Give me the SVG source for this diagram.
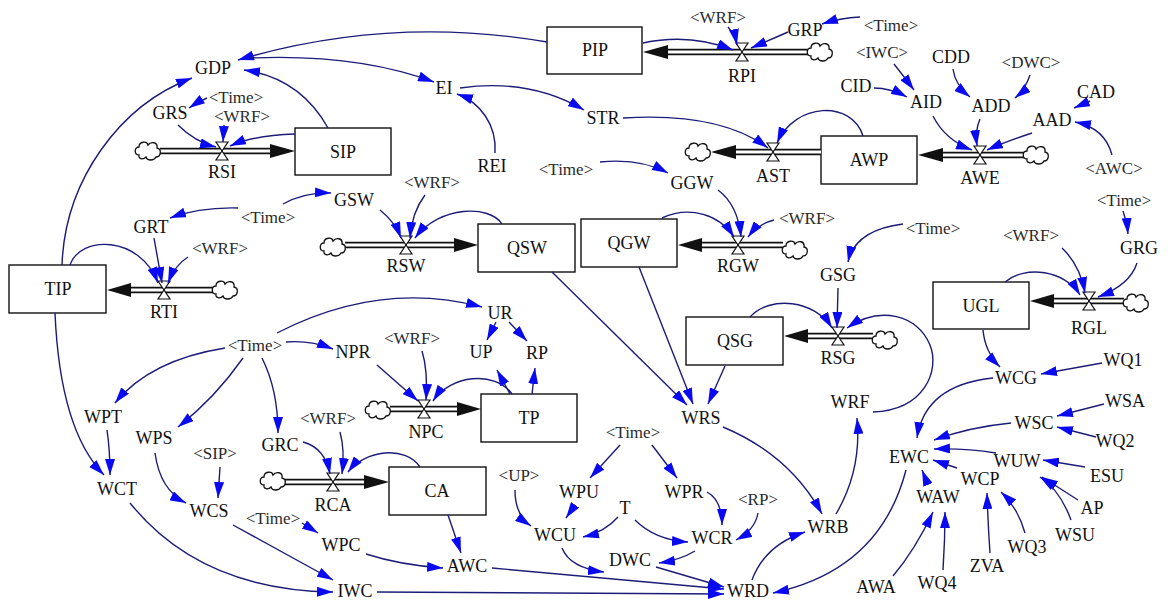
<svg xmlns="http://www.w3.org/2000/svg" xmlns:xlink="http://www.w3.org/1999/xlink" width="1168" height="600" viewBox="0 0 1168 600">
<style>
text{font-family:"Liberation Serif","Times New Roman",serif;font-size:18px;text-anchor:middle;fill:#111}
.s{fill:#2a2a2a;font-size:17px}
.stock{fill:#fff;stroke:#111;stroke-width:1.4}
.po{stroke:#111;stroke-width:6.5;fill:none}
.pi{stroke:#fff;stroke-width:3;fill:none}
.pa{fill:#111}
.c{fill:none;stroke:#1c1c78;stroke-width:1.4;marker-end:url(#a)}
.cl{fill:#fff;stroke:#111;stroke-width:1.3}
.v{fill:#fff;stroke:#111;stroke-width:1.2}
</style>
<defs>
<marker id="a" markerUnits="userSpaceOnUse" markerWidth="17" markerHeight="10" refX="16" refY="5" orient="auto">
<path d="M0,0 L16,5 L0,10 z" fill="#0a0af0"/>
</marker>
<path id="cloud" class="cl" d="M-9,4 C-14,4 -14,-4 -9,-4 C-9,-10 -1,-10 0,-6 C3,-10 10,-9 9,-3 C14,-2 13,6 8,6 C6,10 -1,10 -2,6 C-5,9 -10,8 -9,4 z"/>
<g id="valve"><polygon class="v" points="-6,-9 6,-9 0,0"/><polygon class="v" points="0,0 -6,9 6,9"/></g>
</defs>
<rect width="1168" height="600" fill="#fff"/>
<!-- stocks -->
<g id="PIP"><rect class="stock" x="547" y="27" width="95" height="47"/><text x="595" y="56">PIP</text></g>
<g id="SIP"><rect class="stock" x="295" y="128" width="96" height="47"/><text x="343" y="158">SIP</text></g>
<g id="AWP"><rect class="stock" x="821" y="136" width="96" height="48"/><text x="869" y="166">AWP</text></g>
<g id="QSW"><rect class="stock" x="478" y="224" width="97" height="48"/><text x="527" y="254">QSW</text></g>
<g id="QGW"><rect class="stock" x="581" y="219" width="96" height="48"/><text x="629" y="249">QGW</text></g>
<g id="TIP"><rect class="stock" x="9" y="265" width="97" height="48"/><text x="58" y="295">TIP</text></g>
<g id="TP"><rect class="stock" x="481" y="394" width="96" height="48"/><text x="529" y="424">TP</text></g>
<g id="CA"><rect class="stock" x="389" y="467" width="97" height="48"/><text x="437" y="497">CA</text></g>
<g id="QSG"><rect class="stock" x="686" y="317" width="97" height="48"/><text x="735" y="347">QSG</text></g>
<g id="UGL"><rect class="stock" x="933" y="282" width="96" height="47"/><text x="981" y="312">UGL</text></g>

<!-- flows -->
<g id="RSI"><line class="po" x1="160" y1="151" x2="272" y2="151"/><line class="pi" x1="160" y1="151" x2="272" y2="151"/><polygon class="pa" points="270,144 295,151 270,158"/><use xlink:href="#cloud" x="148" y="151"/><use xlink:href="#valve" x="222" y="151"/><text x="222" y="178">RSI</text></g>
<g id="RPI"><line class="po" x1="808" y1="52" x2="666" y2="52"/><line class="pi" x1="808" y1="52" x2="666" y2="52"/><polygon class="pa" points="668,45 643,52 668,59"/><use xlink:href="#cloud" x="820" y="52"/><use xlink:href="#valve" x="742" y="52"/><text x="742" y="82">RPI</text></g>
<g id="AST"><line class="po" x1="821" y1="152" x2="734" y2="152"/><line class="pi" x1="821" y1="152" x2="734" y2="152"/><polygon class="pa" points="736,145 711,152 736,159"/><use xlink:href="#cloud" x="698" y="152"/><use xlink:href="#valve" x="773" y="152"/><text x="773" y="182">AST</text></g>
<g id="AWE"><line class="po" x1="1024" y1="155" x2="941" y2="155"/><line class="pi" x1="1024" y1="155" x2="941" y2="155"/><polygon class="pa" points="943,148 918,155 943,162"/><use xlink:href="#cloud" x="1036" y="155"/><use xlink:href="#valve" x="980" y="155"/><text x="980" y="184">AWE</text></g>
<g id="RSW"><line class="po" x1="345" y1="245" x2="456" y2="245"/><line class="pi" x1="345" y1="245" x2="456" y2="245"/><polygon class="pa" points="454,238 478,245 454,252"/><use xlink:href="#cloud" x="333" y="247"/><use xlink:href="#valve" x="406" y="245"/><text x="406" y="272">RSW</text></g>
<g id="RGW"><line class="po" x1="783" y1="245" x2="701" y2="245"/><line class="pi" x1="783" y1="245" x2="701" y2="245"/><polygon class="pa" points="702,238 678,245 702,252"/><use xlink:href="#cloud" x="795" y="250"/><use xlink:href="#valve" x="738" y="245"/><text x="738" y="272">RGW</text></g>
<g id="RTI"><line class="po" x1="213" y1="290" x2="129" y2="290"/><line class="pi" x1="213" y1="290" x2="129" y2="290"/><polygon class="pa" points="131,283 107,290 131,297"/><use xlink:href="#cloud" x="225" y="290"/><use xlink:href="#valve" x="164" y="290"/><text x="164" y="318">RTI</text></g>
<g id="NPC"><line class="po" x1="390" y1="409" x2="459" y2="409"/><line class="pi" x1="390" y1="409" x2="459" y2="409"/><polygon class="pa" points="457,402 481,409 457,416"/><use xlink:href="#cloud" x="378" y="410"/><use xlink:href="#valve" x="424" y="409"/><text x="426" y="438">NPC</text></g>
<g id="RCA"><line class="po" x1="285" y1="482" x2="366" y2="482"/><line class="pi" x1="285" y1="482" x2="366" y2="482"/><polygon class="pa" points="364,475 389,482 364,489"/><use xlink:href="#cloud" x="273" y="481"/><use xlink:href="#valve" x="333" y="482"/><text x="333" y="511">RCA</text></g>
<g id="RSG"><line class="po" x1="873" y1="336" x2="806" y2="336"/><line class="pi" x1="873" y1="336" x2="806" y2="336"/><polygon class="pa" points="808,329 784,336 808,343"/><use xlink:href="#cloud" x="885" y="340"/><use xlink:href="#valve" x="838" y="336"/><text x="838" y="364">RSG</text></g>
<g id="RGL"><line class="po" x1="1124" y1="301" x2="1052" y2="301"/><line class="pi" x1="1124" y1="301" x2="1052" y2="301"/><polygon class="pa" points="1054,294 1030,301 1054,308"/><use xlink:href="#cloud" x="1136" y="303"/><use xlink:href="#valve" x="1089" y="301"/><text x="1089" y="334">RGL</text></g>

<!-- variables -->
<g id="GDP"><text x="213" y="74">GDP</text></g>
<g id="GRS"><text x="170" y="119">GRS</text></g>
<g id="Time1"><text class="s" x="236" y="103">&lt;Time&gt;</text></g>
<g id="WRF1"><text class="s" x="242" y="122">&lt;WRF&gt;</text></g>
<g id="EI"><text x="444" y="94">EI</text></g>
<g id="REI"><text x="492" y="172">REI</text></g>
<g id="STR"><text x="603" y="124">STR</text></g>
<g id="WRF2"><text class="s" x="718" y="23">&lt;WRF&gt;</text></g>
<g id="GRP"><text x="805" y="36">GRP</text></g>
<g id="Time2"><text class="s" x="891" y="31">&lt;Time&gt;</text></g>
<g id="IWCs"><text class="s" x="882" y="58">&lt;IWC&gt;</text></g>
<g id="CDD"><text x="951" y="63">CDD</text></g>
<g id="DWCs"><text class="s" x="1031" y="68">&lt;DWC&gt;</text></g>
<g id="CID"><text x="856" y="92">CID</text></g>
<g id="AID"><text x="926" y="108">AID</text></g>
<g id="ADD"><text x="991" y="112">ADD</text></g>
<g id="CAD"><text x="1096" y="98">CAD</text></g>
<g id="AAD"><text x="1052" y="126">AAD</text></g>
<g id="AWCs"><text class="s" x="1114" y="174">&lt;AWC&gt;</text></g>
<g id="Time3"><text class="s" x="566" y="175">&lt;Time&gt;</text></g>
<g id="GGW"><text x="692" y="189">GGW</text></g>
<g id="WRF3"><text class="s" x="807" y="224">&lt;WRF&gt;</text></g>
<g id="GSW"><text x="354" y="206">GSW</text></g>
<g id="WRF4"><text class="s" x="432" y="188">&lt;WRF&gt;</text></g>
<g id="Time4"><text class="s" x="268" y="223">&lt;Time&gt;</text></g>
<g id="GRT"><text x="151" y="233">GRT</text></g>
<g id="WRF5"><text class="s" x="220" y="254">&lt;WRF&gt;</text></g>
<g id="Time5"><text class="s" x="933" y="234">&lt;Time&gt;</text></g>
<g id="GSG"><text x="838" y="281">GSG</text></g>
<g id="WRF6"><text class="s" x="1031" y="241">&lt;WRF&gt;</text></g>
<g id="Time6"><text class="s" x="1124" y="206">&lt;Time&gt;</text></g>
<g id="GRG"><text x="1139" y="254">GRG</text></g>
<g id="Time7"><text class="s" x="255" y="351">&lt;Time&gt;</text></g>
<g id="NPR"><text x="353" y="358">NPR</text></g>
<g id="UR"><text x="500" y="319">UR</text></g>
<g id="UP"><text x="481" y="358">UP</text></g>
<g id="RP"><text x="537" y="359">RP</text></g>
<g id="WRF7"><text class="s" x="412" y="344">&lt;WRF&gt;</text></g>
<g id="WPT"><text x="103" y="423">WPT</text></g>
<g id="WPS"><text x="154" y="444">WPS</text></g>
<g id="GRC"><text x="280" y="451">GRC</text></g>
<g id="WRF8"><text class="s" x="328" y="424">&lt;WRF&gt;</text></g>
<g id="SIPs"><text class="s" x="215" y="459">&lt;SIP&gt;</text></g>
<g id="WCT"><text x="117" y="495">WCT</text></g>
<g id="WCS"><text x="209" y="517">WCS</text></g>
<g id="Time8"><text class="s" x="273" y="524">&lt;Time&gt;</text></g>
<g id="WPC"><text x="341" y="551">WPC</text></g>
<g id="IWC"><text x="355" y="597">IWC</text></g>
<g id="AWC"><text x="467" y="572">AWC</text></g>
<g id="UPs"><text class="s" x="519" y="481">&lt;UP&gt;</text></g>
<g id="WPU"><text x="579" y="498">WPU</text></g>
<g id="Time9"><text class="s" x="633" y="438">&lt;Time&gt;</text></g>
<g id="WPR"><text x="684" y="498">WPR</text></g>
<g id="T"><text x="625" y="514">T</text></g>
<g id="RPs"><text class="s" x="758" y="505">&lt;RP&gt;</text></g>
<g id="WCU"><text x="555" y="541">WCU</text></g>
<g id="WCR"><text x="712" y="544">WCR</text></g>
<g id="DWC"><text x="630" y="566">DWC</text></g>
<g id="WRD"><text x="748" y="597">WRD</text></g>
<g id="WRS"><text x="701" y="424">WRS</text></g>
<g id="WRF"><text x="850" y="408">WRF</text></g>
<g id="WRB"><text x="828" y="533">WRB</text></g>
<g id="WCG"><text x="1016" y="384">WCG</text></g>
<g id="WQ1"><text x="1123" y="366">WQ1</text></g>
<g id="WSA"><text x="1125" y="407">WSA</text></g>
<g id="WSC"><text x="1034" y="429">WSC</text></g>
<g id="WQ2"><text x="1115" y="447">WQ2</text></g>
<g id="EWC"><text x="909" y="463">EWC</text></g>
<g id="WUW"><text x="1017" y="467">WUW</text></g>
<g id="ESU"><text x="1107" y="482">ESU</text></g>
<g id="WCP"><text x="980" y="485">WCP</text></g>
<g id="WAW"><text x="938" y="503">WAW</text></g>
<g id="AP"><text x="1092" y="514">AP</text></g>
<g id="WSU"><text x="1075" y="541">WSU</text></g>
<g id="WQ3"><text x="1027" y="553">WQ3</text></g>
<g id="ZVA"><text x="987" y="572">ZVA</text></g>
<g id="WQ4"><text x="937" y="589">WQ4</text></g>
<g id="AWA"><text x="876" y="593">AWA</text></g>
<!-- connectors -->
<g id="connectors">
<path class="c" d="M62,265 C65,180 120,105 192,78"/>
<path class="c" d="M328,128 Q300,78 244,70"/>
<path class="c" d="M547,42 Q390,15 238,60"/>
<path class="c" d="M250,58 C320,55 380,62 434,82"/>
<path class="c" d="M495,153 C497,125 480,102 457,94"/>
<path class="c" d="M460,88 Q530,78 584,110"/>
<path class="c" d="M623,118 Q720,112 768,148"/>
<path class="c" d="M863,136 C852,100 795,102 777,143"/>
<path class="c" d="M933,116 Q945,140 972,150"/>
<path class="c" d="M980,119 Q975,130 977,146"/>
<path class="c" d="M1032,133 Q1005,142 987,150"/>
<path class="c" d="M874,88 Q890,88 907,97"/>
<path class="c" d="M894,64 Q905,78 914,90"/>
<path class="c" d="M953,69 Q955,85 970,97"/>
<path class="c" d="M1030,75 Q1025,90 1015,98"/>
<path class="c" d="M1090,101 L1074,108"/>
<path class="c" d="M1112,155 Q1105,128 1075,122"/>
<path class="c" d="M860,17 Q840,18 822,24"/>
<path class="c" d="M788,32 Q770,40 751,48"/>
<path class="c" d="M728,27 Q735,35 737,45"/>
<path class="c" d="M643,43 Q690,33 733,50"/>
<path class="c" d="M178,125 Q195,142 216,147"/>
<path class="c" d="M207,98 Q198,102 189,108"/>
<path class="c" d="M224,125 L223,142"/>
<path class="c" d="M295,134 Q255,135 230,146"/>
<path class="c" d="M283,204 Q305,192 331,193"/>
<path class="c" d="M238,208 Q200,207 170,218"/>
<path class="c" d="M154,238 Q158,260 162,283"/>
<path class="c" d="M188,257 Q175,265 168,283"/>
<path class="c" d="M70,265 C80,235 140,235 158,283"/>
<path class="c" d="M380,210 Q395,222 401,238"/>
<path class="c" d="M425,195 Q412,212 410,238"/>
<path class="c" d="M502,224 C490,205 440,205 415,238"/>
<path class="c" d="M600,162 Q640,158 668,173"/>
<path class="c" d="M718,190 Q738,205 741,237"/>
<path class="c" d="M774,220 Q758,224 748,237"/>
<path class="c" d="M662,218 C690,205 720,215 734,237"/>
<path class="c" d="M552,272 L687,405"/>
<path class="c" d="M639,267 L693,404"/>
<path class="c" d="M725,366 L708,404"/>
<path class="c" d="M903,224 Q855,230 848,262"/>
<path class="c" d="M838,288 L837,328"/>
<path class="c" d="M750,317 C770,295 815,300 832,328"/>
<path class="c" d="M873,412 C925,410 940,370 930,345 C918,315 880,305 847,328"/>
<path class="c" d="M836,514 Q862,470 857,418"/>
<path class="c" d="M723,427 Q790,455 822,514"/>
<path class="c" d="M752,580 Q765,545 805,532"/>
<path class="c" d="M906,470 Q880,570 773,593"/>
<path class="c" d="M993,378 Q925,385 917,438"/>
<path class="c" d="M983,330 Q985,352 1000,367"/>
<path class="c" d="M1102,363 L1041,374"/>
<path class="c" d="M1104,404 L1057,416"/>
<path class="c" d="M1096,437 L1057,427"/>
<path class="c" d="M1011,423 Q970,427 934,440"/>
<path class="c" d="M996,453 Q965,448 934,449"/>
<path class="c" d="M957,468 L933,460"/>
<path class="c" d="M928,485 L922,470"/>
<path class="c" d="M1085,467 L1043,460"/>
<path class="c" d="M1078,500 L1042,477"/>
<path class="c" d="M1071,520 Q1060,490 1040,477"/>
<path class="c" d="M1025,533 Q1018,508 1001,492"/>
<path class="c" d="M990,553 Q988,525 987,493"/>
<path class="c" d="M943,570 Q945,540 945,512"/>
<path class="c" d="M893,576 Q915,550 933,512"/>
<path class="c" d="M286,342 Q310,340 333,349"/>
<path class="c" d="M277,333 Q380,280 482,307"/>
<path class="c" d="M225,348 Q150,360 115,403"/>
<path class="c" d="M243,358 Q215,398 178,427"/>
<path class="c" d="M262,358 Q278,390 278,433"/>
<path class="c" d="M377,365 L418,401"/>
<path class="c" d="M422,351 Q428,370 426,400"/>
<path class="c" d="M512,394 C495,370 450,375 433,401"/>
<path class="c" d="M496,322 L487,340"/>
<path class="c" d="M509,322 L527,341"/>
<path class="c" d="M510,394 L497,370"/>
<path class="c" d="M532,394 L535,368"/>
<path class="c" d="M107,430 Q110,450 110,475"/>
<path class="c" d="M55,313 Q60,430 104,475"/>
<path class="c" d="M155,453 Q160,490 186,503"/>
<path class="c" d="M220,467 L218,498"/>
<path class="c" d="M130,503 Q200,590 333,592"/>
<path class="c" d="M233,525 L333,580"/>
<path class="c" d="M302,523 L318,533"/>
<path class="c" d="M303,442 Q325,448 330,474"/>
<path class="c" d="M340,432 Q345,450 342,474"/>
<path class="c" d="M420,467 C405,445 365,450 348,472"/>
<path class="c" d="M448,515 L461,553"/>
<path class="c" d="M366,554 Q400,565 443,568"/>
<path class="c" d="M377,592 L724,594"/>
<path class="c" d="M492,568 L724,589"/>
<path class="c" d="M656,567 L724,587"/>
<path class="c" d="M562,548 Q570,568 604,572"/>
<path class="c" d="M695,551 Q680,560 659,563"/>
<path class="c" d="M515,490 Q515,515 531,526"/>
<path class="c" d="M575,505 L566,518"/>
<path class="c" d="M618,517 Q605,532 583,537"/>
<path class="c" d="M635,520 Q655,540 688,542"/>
<path class="c" d="M707,492 Q722,500 722,525"/>
<path class="c" d="M758,513 Q755,530 736,540"/>
<path class="c" d="M620,445 L590,478"/>
<path class="c" d="M652,445 L677,478"/>
<path class="c" d="M1137,263 Q1130,285 1098,297"/>
<path class="c" d="M1123,211 Q1127,222 1128,234"/>
<path class="c" d="M1062,248 Q1080,265 1085,293"/>
<path class="c" d="M1005,282 C1025,265 1065,270 1080,295"/>
</g>
</svg>
